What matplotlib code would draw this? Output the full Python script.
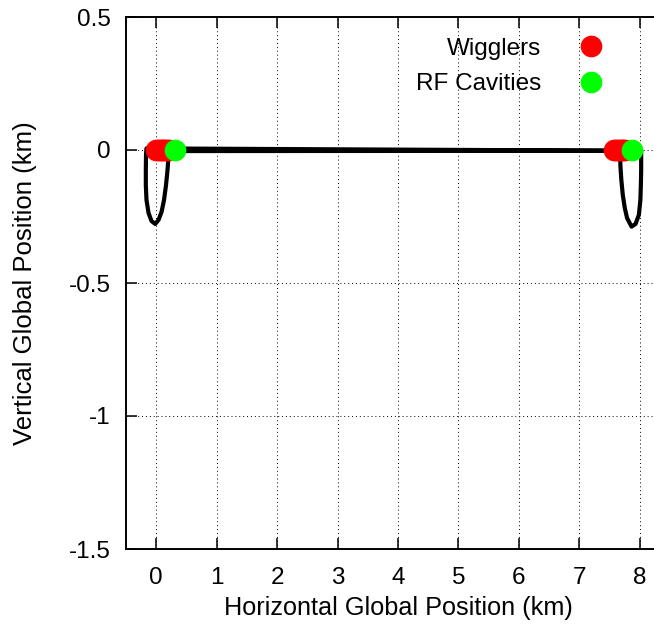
import matplotlib
matplotlib.use('Agg')
import matplotlib.pyplot as plt
from matplotlib.ticker import FuncFormatter

plt.rcParams['font.family'] = ['Liberation Sans', 'DejaVu Sans']
plt.rcParams['axes.unicode_minus'] = False

# ring outline (km), one closed path: left loop, straight, right loop, straight back
ring_x = [0.205, 0.204, 0.187, 0.162, 0.129, 0.088, 0.038, -0.017, -0.078, -0.127, -0.161, -0.172, -0.172,
          -0.169, -0.161,
          8.023, 8.023, 8.023, 8.018, 8.01, 7.985, 7.93, 7.864, 7.79, 7.752, 7.719, 7.695, 7.679, 7.676,
          0.205]
ring_y = [-0.004, -0.019, -0.075, -0.132, -0.188, -0.233, -0.263, -0.278, -0.267, -0.237, -0.188, -0.132, -0.075,
          -0.019, 0.006,
          -0.003, -0.019, -0.075, -0.132, -0.188, -0.244, -0.278, -0.288, -0.256, -0.218, -0.169, -0.113, -0.056, -0.003,
          -0.004]

# element positions (km)
wiggler_x = [0.0, 0.03, 0.06, 0.09, 0.12, 0.15, 0.18, 0.21,
             7.58, 7.61, 7.64, 7.67, 7.70, 7.73, 7.76]
wiggler_y = [0.0] * len(wiggler_x)
rf_x = [0.31, 7.87]
rf_y = [0.0, 0.0]

fig = plt.figure(figsize=(6.54, 6.26), dpi=100)
# gnuplot output is cropped on the right, so the axes run past the figure edge
ax = fig.add_axes([126 / 654, 1 - 549 / 626, 544 / 654, 532 / 626])

ax.plot(ring_x, ring_y, color='black', linewidth=3.0, solid_joinstyle='round', zorder=2)
ax.plot(wiggler_x, wiggler_y, 'o', color='#ff0000', markersize=15.6, markeredgewidth=0,
        label='Wigglers', zorder=3)
ax.plot(rf_x, rf_y, 'o', color='#00ff00', markersize=15.6, markeredgewidth=0,
        label='RF Cavities', zorder=4)

ax.set_xlim(-0.5, 8.5)
ax.set_ylim(-1.5, 0.5)
ax.set_xticks(range(0, 9))
ax.set_yticks([-1.5, -1, -0.5, 0, 0.5])
ax.yaxis.set_major_formatter(FuncFormatter(lambda v, p: '%g' % v))
ax.grid(True, color='black', linestyle=(0, (1, 3)), linewidth=0.7)
ax.set_axisbelow(True)
ax.tick_params(direction='in', top=True, right=True, length=8, width=1.1,
               labelsize=17.5, pad=11)
ax.tick_params(axis='x', pad=13)
for s in ax.spines.values():
    s.set_linewidth(1.4)

ax.set_xlabel('Horizontal Global Position (km)', fontsize=18.2, labelpad=5)
ax.set_ylabel('Vertical Global Position (km)', fontsize=18.5, labelpad=23)

fig.legend(loc='upper right', bbox_to_anchor=(613 / 654, 1 - 28 / 626), markerfirst=False,
           frameon=False, fontsize=17.5, handlelength=1.0, handletextpad=1.55,
           labelspacing=0.55, borderaxespad=0)

fig.savefig('out.png', dpi=100)
